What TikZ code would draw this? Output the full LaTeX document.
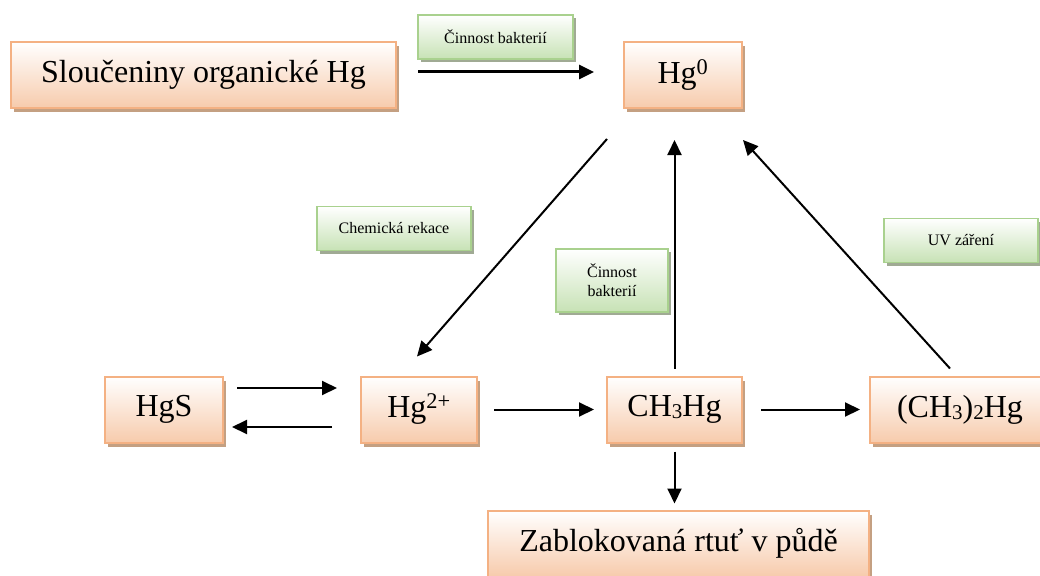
\documentclass[tikz,border=0pt]{standalone}
\usepackage{fontspec}
\setmainfont{Liberation Serif}
\usetikzlibrary{arrows.meta, positioning, shadows}
\definecolor{hgborder}{RGB}{244, 177, 131}
\definecolor{hgfill}{RGB}{247, 203, 172}
\definecolor{hgshadow}{RGB}{196, 160, 130}
\definecolor{lblborder}{RGB}{169, 209, 142}
\definecolor{lblfill}{RGB}{199, 226, 181}
\definecolor{lblshadow}{RGB}{160, 170, 148}
\newcommand{\chemsub}[1]{\raisebox{-2pt}{\fontsize{21}{21}\selectfont #1}}
\tikzset{
    % Compound boxes
    hgbox/.style={
        draw=hgborder, line width=2pt, align=center,
        font=\fontsize{32}{36}\selectfont,
        minimum height=66pt, inner sep=0pt,
        shading=axis, top color=white, bottom color=hgfill,
        drop shadow={shadow xshift=3pt, shadow yshift=-4pt, fill=hgshadow, opacity=1}
    },
    % Process labels
    labelbox/.style={
        draw=lblborder, line width=1.6pt, align=center,
        font=\fontsize{16}{19}\selectfont,
        minimum height=44pt, inner sep=0pt,
        shading=axis, top color=white, bottom color=lblfill,
        drop shadow={shadow xshift=3pt, shadow yshift=-3pt, fill=lblshadow, opacity=1}
    },
    % Arrows
    myarrow/.style={-{Triangle[length=15pt, width=14pt]}, line width=2pt, black},
}
\begin{document}
\begin{tikzpicture}[x=1pt, y=-1pt]
\useasboundingbox (0,0) rectangle (1040,575);
\clip (0,0) rectangle (1040,575);
\fill[white] (0,0) rectangle (1040,575);

% Top row
\node (org) [hgbox, minimum width=385pt] at (203.5,75) {Sloučeniny organické Hg};
\node (hg0) [hgbox, minimum width=118pt] at (683,75) {Hg\textsuperscript{0}};

% Bottom row
\node (hgs) [hgbox, minimum width=118pt] at (164,409.5) {HgS};
\node (hg2) [hgbox, minimum width=116pt, right=136pt of hgs] {Hg\textsuperscript{2+}};
\node (ch3) [hgbox, minimum width=135pt, right=128pt of hg2] {CH\chemsub{3}Hg};
\node (dime) [hgbox, minimum width=180pt, right=126pt of ch3] {(CH\chemsub{3})\chemsub{2}Hg};
\node (zab) [hgbox, minimum width=381pt, below=66pt of ch3, xshift=4pt] {Zablokovaná rtuť v půdě};

% Labels
\node (lbakt) [labelbox, minimum width=155pt] at (495.5,37) {Činnost bakterií};
\node (lchem) [labelbox, minimum width=154pt] at (394,228.5) {Chemická rekace};
\node (lbakt2) [labelbox, minimum width=112pt, minimum height=63pt] at (612,280.5) {Činnost\\bakterií};
\node (luv) [labelbox, minimum width=154pt] at (961,240.5) {UV záření};

% Arrows
\draw[myarrow, line width=3pt, shorten <=21pt, shorten >=29pt] ([yshift=3pt]org.east) -- ([yshift=3pt]hg0.west);
\draw[myarrow] ([xshift=-16pt, yshift=-30pt]hg0.south west) -- ([xshift=-2pt, yshift=19pt]hg2.north);
\draw[myarrow, shorten <=7pt, shorten >=31pt] (ch3.north) -- (ch3.north |- hg0.south);
\draw[myarrow] ([xshift=-10pt, yshift=7pt]dime.north) -- ([yshift=-31pt]hg0.south east);
\draw[myarrow, shorten <=13pt, shorten >=23pt] ([yshift=21.5pt]hgs.east) -- ([yshift=21.5pt]hg2.west);
\draw[myarrow, shorten <=28pt, shorten >=8pt] ([yshift=-17.5pt]hg2.west) -- ([yshift=-17.5pt]hgs.east);
\draw[myarrow, shorten <=16pt, shorten >=12pt] (hg2.east) -- (ch3.west);
\draw[myarrow, shorten <=18pt, shorten >=9pt] (ch3.east) -- (dime.west);
\draw[myarrow, shorten <=8pt, shorten >=6pt] (ch3.south) -- (ch3.south |- zab.north);

\end{tikzpicture}
\end{document}
